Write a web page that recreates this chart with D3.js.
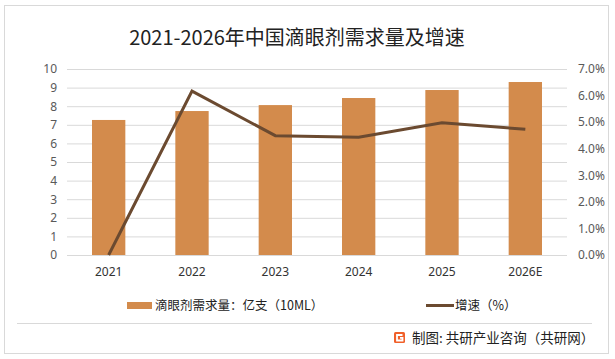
<!DOCTYPE html>
<html><head><meta charset="utf-8">
<script src="https://cdn.jsdelivr.net/npm/d3@7"></script>
<style>body{margin:0;background:#fff}svg{display:block;font-family:"Noto Sans CJK SC","Noto Sans",sans-serif}</style>
</head><body><svg id="c" width="615" height="359"></svg>
<script>
const categories = ["2021","2022","2023","2024","2025","2026E"];
const demand = [7.26, 7.74, 8.06, 8.44, 8.87, 9.30];
const growth = [0.0, 6.17, 4.49, 4.43, 4.98, 4.73];
const leftTicks = [0,1,2,3,4,5,6,7,8,9,10];
const rightTicks = [0,1,2,3,4,5,6,7];
const title = "2021-2026年中国滴眼剂需求量及增速";
const barLabel = "滴眼剂需求量：亿支（10ML）";
const lineLabel = "增速（%）";
const source = "制图: 共研产业咨询（共研网）";

const svg = d3.select("#c");
const L = 67, R = 567, T = 69, B = 255;
const barColor = "#d38b4c", lineColor = "#6b4a30";

svg.append("rect").attr("x",4.5).attr("y",5.5).attr("width",604).attr("height",348)
  .attr("fill","#fff").attr("stroke","#d9d9d9");

svg.append("text").attr("x",297).attr("y",45).attr("text-anchor","middle")
  .attr("font-size",20).attr("fill","#222").text(title);

const x = d3.scaleBand().domain(categories).range([L,R]).paddingInner(0.6).paddingOuter(0.3);
const y = d3.scaleLinear().domain([0,10]).range([B,T]);
const y2 = d3.scaleLinear().domain([0,7]).range([B,T]);

svg.append("g").selectAll("line").data(leftTicks).join("line")
  .attr("x1",L).attr("x2",R).attr("y1",d=>y(d)+0.5).attr("y2",d=>y(d)+0.5)
  .attr("stroke","#d9d9d9").attr("stroke-width",1);

const gl = svg.append("g").attr("transform",`translate(${L-10},0)`)
  .call(d3.axisLeft(y).tickValues(leftTicks).tickSize(0).tickPadding(0).tickFormat(d3.format("d")));
gl.select(".domain").remove();
gl.selectAll("text").attr("font-size",12).attr("fill","#595959").attr("font-family","Noto Sans, sans-serif");

const gr = svg.append("g").attr("transform",`translate(${R+11},0)`)
  .call(d3.axisRight(y2).tickValues(rightTicks).tickSize(0).tickPadding(0).tickFormat(d=>d.toFixed(1)+"%"));
gr.select(".domain").remove();
gr.selectAll("text").attr("font-size",12).attr("fill","#595959").attr("font-family","Noto Sans, sans-serif");

const gx = svg.append("g").attr("transform",`translate(0,${B+8})`)
  .call(d3.axisBottom(x).tickSize(0).tickPadding(4));
gx.select(".domain").remove();
gx.selectAll("text").attr("font-size",12).attr("fill","#333").attr("font-family","Noto Sans, sans-serif");

svg.append("g").selectAll("rect").data(demand).join("rect")
  .attr("x",(d,i)=>x(categories[i])).attr("width",x.bandwidth())
  .attr("y",d=>y(d)).attr("height",d=>B-y(d)).attr("fill",barColor);

const line = d3.line().x((d,i)=>x(categories[i])+x.bandwidth()/2).y(d=>y2(d));
svg.append("path").datum(growth).attr("d",line).attr("fill","none")
  .attr("stroke",lineColor).attr("stroke-width",3);

// legend
svg.append("rect").attr("x",127).attr("y",302).attr("width",25).attr("height",7).attr("fill",barColor);
svg.append("text").attr("x",155).attr("y",310).attr("font-size",12.5).attr("fill","#222").text(barLabel);
svg.append("line").attr("x1",426).attr("x2",454).attr("y1",305.5).attr("y2",305.5)
  .attr("stroke",lineColor).attr("stroke-width",3);
svg.append("text").attr("x",455).attr("y",310).attr("font-size",12.5).attr("fill","#222").text(lineLabel);

svg.append("line").attr("x1",17).attr("x2",592).attr("y1",323.5).attr("y2",323.5).attr("stroke","#d9d9d9");

// logo
const lg = svg.append("g").attr("transform","translate(394,332)");
lg.append("rect").attr("width",11).attr("height",11).attr("rx",1.5).attr("fill","#f0602a");
lg.append("path").attr("d","M8.5,3 H3 V8.5 H8.5 V5.8 H6").attr("fill","none").attr("stroke","#fff").attr("stroke-width",1.8);
svg.append("text").attr("x",412).attr("y",343).attr("font-size",13.5).attr("fill","#222").text(source);
</script></body></html>
